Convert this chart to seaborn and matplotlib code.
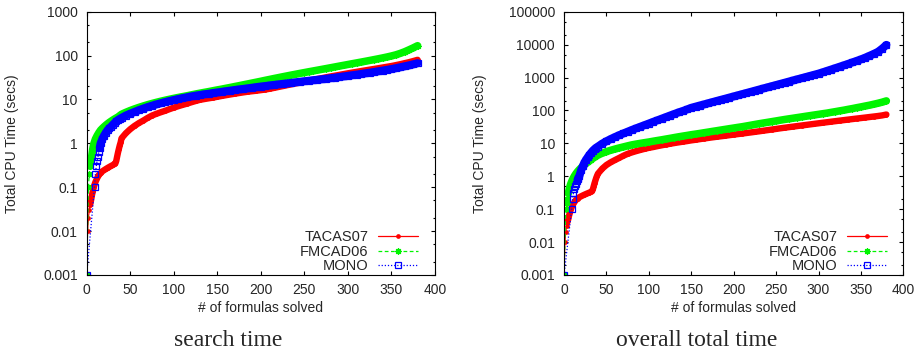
import numpy as np
import pandas as pd
import matplotlib
matplotlib.use("Agg")
import matplotlib.pyplot as plt
from matplotlib.ticker import FixedLocator, FixedFormatter, LogLocator, NullFormatter
import seaborn as sns

# ---------------------------------------------------------------------------
# Cumulative CPU time (seconds) against the number of formulas solved.
# Every curve = an irregular head (first ~40 formulas) + an evenly spaced
# tail sampled at formulas 40, 45, 50, ... 380.
# ---------------------------------------------------------------------------
TAIL_START = 40
TAIL_STEP = 5

# TACAS07 head (identical in both measurements)
TACAS07_HEAD_X = [0, 1, 2, 3, 4, 5, 6, 7, 8, 10, 12, 14, 16, 18, 20, 22, 24,
                  26, 28, 30, 32, 33, 34, 35, 36, 37, 38, 39]
TACAS07_HEAD_Y = [0.001, 0.01, 0.02, 0.03, 0.04, 0.05, 0.065, 0.08, 0.1, 0.13,
                  0.16, 0.19, 0.21, 0.23, 0.245, 0.26, 0.275, 0.29, 0.305,
                  0.32, 0.34, 0.35, 0.4, 0.5, 0.62, 0.75, 0.9, 1.05]

SEARCH_TACAS07_TAIL = [
    1.3, 1.7, 2.1, 2.5, 2.9, 3.3, 3.8, 4.3, 4.7, 5.1, 5.5, 6.0, 6.5, 7.0, 7.5,
    8.0, 8.6, 9.2, 9.8, 10.2, 10.6, 11.0, 11.5, 12.0, 12.5, 13.0, 13.5, 14.0,
    14.5, 15.0, 15.4, 15.8, 16.3, 16.8, 17.5, 18.3, 19.2, 20.1, 21.1, 22.1,
    23.2, 24.3, 25.5, 26.7, 28.0, 29.3, 30.6, 32.0, 33.4, 34.8, 36.3, 37.8,
    39.4, 41.0, 42.6, 44.3, 46.0, 47.8, 49.6, 51.5, 53.5, 55.6, 57.8, 60.5,
    63.5, 67.0, 70.5, 75.0, 80.0]
TOTAL_TACAS07_TAIL = [
    1.2, 1.7, 2.2, 2.65, 3.1, 3.6, 4.2, 4.8, 5.3, 5.8, 6.3, 6.8, 7.3, 7.7, 8.2,
    8.7, 9.2, 9.7, 10.2, 10.7, 11.2, 11.7, 12.3, 12.8, 13.4, 14.0, 14.6, 15.2,
    15.8, 16.4, 17.0, 17.7, 18.4, 19.1, 19.8, 20.6, 21.4, 22.3, 23.2, 24.2,
    25.2, 26.3, 27.4, 28.6, 29.8, 31.0, 32.2, 33.5, 34.8, 36.2, 37.6, 39.1,
    40.6, 42.2, 43.8, 45.5, 47.2, 49.0, 50.8, 52.7, 54.6, 56.6, 58.6, 60.7,
    62.9, 65.2, 67.6, 70.5, 75.0]

# FMCAD06
FMCAD06_HEAD_X = [0, 2, 3, 4, 5, 6, 7, 8, 10, 12, 14, 16, 18, 20, 22, 24, 26,
                  28, 30, 32, 34, 36, 38]
SEARCH_FMCAD06_HEAD_Y = [0.001, 0.1, 0.2, 0.3, 0.4, 0.55, 0.75, 0.95, 1.25,
                         1.5, 1.75, 2.0, 2.2, 2.4, 2.6, 2.8, 3.0, 3.2, 3.4,
                         3.6, 3.8, 4.0, 4.3]
TOTAL_FMCAD06_HEAD_Y = [0.001, 0.1, 0.15, 0.2, 0.3, 0.4, 0.5, 0.6, 0.8, 1.0,
                        1.2, 1.4, 1.6, 1.8, 2.0, 2.2, 2.45, 2.7, 2.95, 3.2,
                        3.5, 3.8, 4.1]
SEARCH_FMCAD06_TAIL = [
    4.6, 5.1, 5.6, 6.1, 6.6, 7.1, 7.6, 8.1, 8.6, 9.1, 9.6, 10.1, 10.6, 11.1,
    11.6, 12.1, 12.7, 13.3, 13.9, 14.5, 15.1, 15.8, 16.5, 17.2, 18.0, 18.8,
    19.7, 20.6, 21.6, 22.6, 23.7, 24.8, 26.0, 27.3, 28.6, 30.0, 31.4, 32.9,
    34.4, 36.0, 37.6, 39.3, 41.0, 42.8, 44.6, 46.5, 48.5, 50.6, 52.8, 55.1,
    57.5, 60.0, 62.6, 65.3, 68.1, 71.0, 74.1, 77.4, 80.9, 84.6, 88.6, 93.0,
    98.0, 104.0, 112.0, 122.0, 135.0, 150.0, 168.0]
TOTAL_FMCAD06_TAIL = [
    4.4, 5.0, 5.6, 6.15, 6.7, 7.25, 7.8, 8.4, 9.0, 9.5, 10.0, 10.5, 11.0, 11.6,
    12.2, 12.8, 13.5, 14.2, 15.0, 15.8, 16.6, 17.4, 18.3, 19.1, 20.0, 21.0,
    22.0, 23.1, 24.2, 25.4, 26.6, 27.9, 29.2, 30.6, 32.0, 33.7, 35.5, 37.5,
    39.5, 41.5, 43.5, 45.7, 48.0, 50.5, 53.0, 55.5, 58.0, 60.7, 63.5, 66.5,
    69.5, 72.7, 76.0, 79.5, 83.0, 87.5, 92.0, 97.0, 102.0, 108.0, 114.0, 121.0,
    128.0, 136.0, 144.0, 154.0, 165.0, 178.0, 195.0]

# MONO
SEARCH_MONO_HEAD_X = [0, 9, 10, 11, 12, 13, 14, 15, 16, 18, 20, 22, 24, 26,
                      28, 30, 32, 34, 36, 38]
SEARCH_MONO_HEAD_Y = [0.001, 0.1, 0.2, 0.3, 0.4, 0.5, 0.65, 0.8, 1.0, 1.25,
                      1.5, 1.75, 2.0, 2.2, 2.4, 2.65, 2.9, 3.15, 3.4, 3.6]
TOTAL_MONO_HEAD_X = [0, 9, 10, 11, 12, 13, 14, 15, 16, 17, 18, 20, 22, 24,
                     26, 28, 30, 32, 34, 36, 38]
TOTAL_MONO_HEAD_Y = [0.001, 0.1, 0.2, 0.3, 0.4, 0.5, 0.6, 0.7, 0.8, 0.9, 1.0,
                     1.5, 2.0, 2.6, 3.2, 3.8, 4.5, 5.2, 6.0, 6.7, 7.4]
SEARCH_MONO_TAIL = [
    3.8, 4.3, 4.75, 5.2, 5.7, 6.2, 6.7, 7.2, 7.7, 8.2, 8.7, 9.2, 9.7, 10.2,
    10.7, 11.2, 11.7, 12.2, 12.6, 13.1, 13.5, 14.0, 14.4, 14.9, 15.4, 15.9,
    16.4, 16.9, 17.4, 17.9, 18.5, 19.1, 19.7, 20.2, 20.8, 21.4, 22.0, 22.6,
    23.2, 23.9, 24.6, 25.3, 26.0, 26.7, 27.4, 28.1, 28.8, 29.6, 30.5, 31.4,
    32.4, 33.4, 34.5, 35.6, 36.8, 38.0, 39.3, 40.7, 42.2, 43.8, 45.5, 47.3,
    49.2, 51.5, 54.0, 56.8, 59.5, 63.0, 67.0]
TOTAL_MONO_TAIL = [
    8.0, 9.8, 11.6, 13.5, 15.5, 17.7, 20.0, 22.6, 25.5, 28.6, 32.0, 35.8, 40.0,
    44.8, 50.0, 56.0, 62.5, 70.0, 78.0, 87.0, 96.0, 107, 120, 130, 141, 152,
    165, 179, 194, 210, 227, 246, 266, 288, 312, 338, 366, 397, 430, 465, 504,
    546, 591, 640, 693, 751, 813, 881, 954, 1033, 1119, 1212, 1313, 1440, 1590,
    1750, 1930, 2130, 2350, 2600, 2880, 3200, 3550, 4000, 4550, 5200, 6000,
    7500, 9800]

SOLVERS = ["TACAS07", "FMCAD06", "MONO"]
X_TICKS = [0, 50, 100, 150, 200, 250, 300, 350, 400]
Y_TICKS_SEARCH = [0.001, 0.01, 0.1, 1, 10, 100, 1000]
Y_TICKS_TOTAL = [0.001, 0.01, 0.1, 1, 10, 100, 1000, 10000, 100000]
CAPTIONS = ["search time", "overall total time"]
X_LABEL = "# of formulas solved"
Y_LABEL = "Total CPU Time (secs)"


def curve_frame(solver, head_x, head_y, tail):
    xs = list(head_x) + [TAIL_START + TAIL_STEP * i for i in range(len(tail))]
    ys = list(head_y) + list(tail)
    return pd.DataFrame({"solved": xs, "seconds": ys, "solver": solver})


search_df = pd.concat([
    curve_frame("TACAS07", TACAS07_HEAD_X, TACAS07_HEAD_Y, SEARCH_TACAS07_TAIL),
    curve_frame("FMCAD06", FMCAD06_HEAD_X, SEARCH_FMCAD06_HEAD_Y, SEARCH_FMCAD06_TAIL),
    curve_frame("MONO", SEARCH_MONO_HEAD_X, SEARCH_MONO_HEAD_Y, SEARCH_MONO_TAIL),
], ignore_index=True)

total_df = pd.concat([
    curve_frame("TACAS07", TACAS07_HEAD_X, TACAS07_HEAD_Y, TOTAL_TACAS07_TAIL),
    curve_frame("FMCAD06", FMCAD06_HEAD_X, TOTAL_FMCAD06_HEAD_Y, TOTAL_FMCAD06_TAIL),
    curve_frame("MONO", TOTAL_MONO_HEAD_X, TOTAL_MONO_HEAD_Y, TOTAL_MONO_TAIL),
], ignore_index=True)

# gnuplot-like line/point styles; "band" is the width of the dense point
# cloud, drawn from "band_from" seconds upwards
STYLES = {
    "TACAS07": dict(color="#ff0000", linestyle="-", marker="o", markersize=3.4,
                    markerfacecolor="#ff0000", markeredgecolor="#ff0000",
                    markeredgewidth=0.0, band=4.6, band_from=0.04),
    "FMCAD06": dict(color="#00f400", linestyle=(0, (3, 2)), marker=(8, 2, 0),
                    markersize=4.6, markerfacecolor="#00f400",
                    markeredgecolor="#00f400", markeredgewidth=0.9, band=5.4,
                    band_from=0.3),
    "MONO": dict(color="#0000ff", linestyle=(0, (1, 1.5)), marker="s",
                 markersize=4.0, markerfacecolor="none",
                 markeredgecolor="#0000ff", markeredgewidth=0.9, band=5.8,
                 band_from=0.75),
}

sns.set_style("ticks")
plt.rcParams["font.family"] = ["Liberation Sans", "DejaVu Sans"]
plt.rcParams["font.size"] = 10
plt.rcParams["axes.linewidth"] = 0.8

fig = plt.figure(figsize=(9.23, 3.55), dpi=100)
ax_search = fig.add_axes([0.0939, 0.2254, 0.3774, 0.7417])
ax_total = fig.add_axes([0.6111, 0.2254, 0.3676, 0.7417])


def draw_panel(ax, df, y_ticks, ylabel_x):
    ax.set_yscale("log")
    for solver in SOLVERS:
        st = dict(STYLES[solver])
        band_w = st.pop("band")
        band_from = st.pop("band_from")
        d = df[df["solver"] == solver]
        dense = d[d["seconds"] >= band_from]
        sns.lineplot(data=dense, x="solved", y="seconds", ax=ax,
                     color=st["color"], linewidth=band_w, estimator=None,
                     sort=False, legend=False, solid_capstyle="round",
                     solid_joinstyle="round")
        sns.lineplot(data=d, x="solved", y="seconds", ax=ax, linewidth=0.9,
                     estimator=None, sort=False, label=solver, **st)

    ax.set_xlim(0, 400)
    ax.set_ylim(y_ticks[0], y_ticks[-1])
    ax.xaxis.set_major_locator(FixedLocator(X_TICKS))
    ax.xaxis.set_major_formatter(FixedFormatter([f"{v:g}" for v in X_TICKS]))
    ax.yaxis.set_major_locator(FixedLocator(y_ticks))
    ax.yaxis.set_major_formatter(FixedFormatter([f"{v:g}" for v in y_ticks]))
    ax.yaxis.set_minor_locator(LogLocator(base=10, subs=(2.0, 5.0), numticks=30))
    ax.yaxis.set_minor_formatter(NullFormatter())

    ax.tick_params(which="both", direction="in", top=True, right=True,
                   color="black", width=0.8)
    ax.tick_params(which="major", length=3.2)
    ax.tick_params(which="minor", length=1.6)
    ax.tick_params(axis="x", which="major", pad=5.5, labelsize=10)
    ax.tick_params(axis="y", which="major", pad=6.5, labelsize=10)
    for sp in ax.spines.values():
        sp.set_visible(True)
        sp.set_color("black")
        sp.set_linewidth(0.8)

    ax.set_xlabel(X_LABEL, fontsize=10)
    ax.set_ylabel(Y_LABEL, fontsize=10)
    ax.xaxis.set_label_coords(0.5, -0.10)
    ax.yaxis.set_label_coords(ylabel_x, 0.5)

    handles, labels = ax.get_legend_handles_labels()
    ax.legend(handles, labels, loc="lower right",
              bbox_to_anchor=(0.951, 0.006), frameon=False, markerfirst=False,
              handlelength=2.75, handletextpad=0.65, labelspacing=0.05,
              borderpad=0.0, borderaxespad=0.0, fontsize=10.5)
    ax.set_facecolor("white")


draw_panel(ax_search, search_df, Y_TICKS_SEARCH, -0.194)
draw_panel(ax_total, total_df, Y_TICKS_TOTAL, -0.227)

fig.text(228 / 923, 1 - 340 / 355, CAPTIONS[0], ha="center", va="center",
         family=["Liberation Serif", "DejaVu Serif"], fontsize=17)
fig.text(697 / 923, 1 - 340 / 355, CAPTIONS[1], ha="center", va="center",
         family=["Liberation Serif", "DejaVu Serif"], fontsize=17)

fig.savefig("out.png", dpi=100, facecolor="white")
